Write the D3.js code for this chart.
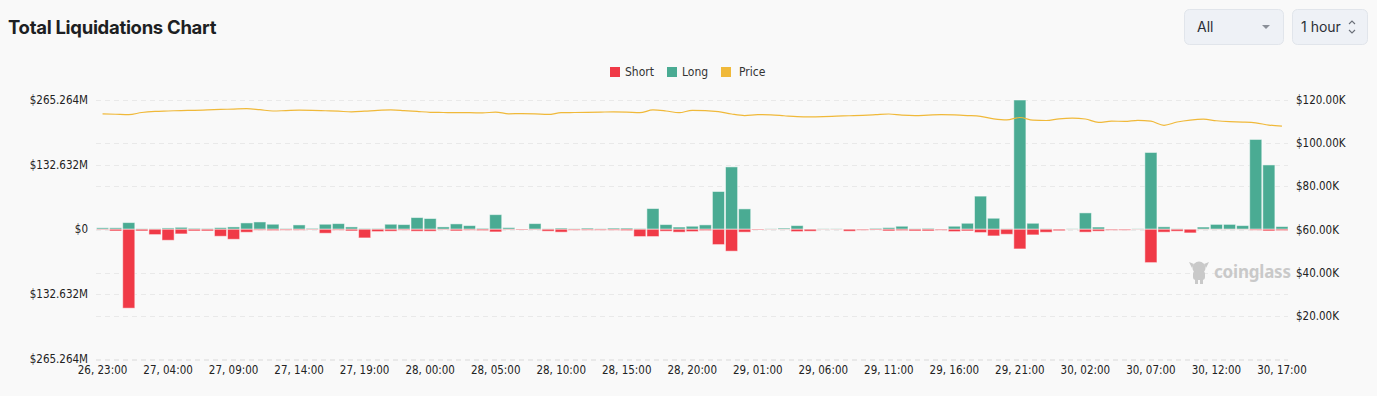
<!DOCTYPE html>
<html>
<head>
<meta charset="utf-8">
<script src="https://cdn.jsdelivr.net/npm/d3@7"></script>
<style>
  html, body { margin: 0; padding: 0; background: #f9f9f9; }
  svg { display: block; }
</style>
</head>
<body>
<svg id="chart" width="1377" height="396"></svg>
<script>
// ---------- DATA ----------
// hourly categories: 26, 23:00 .. 30, 17:00 (91 hours)
const startTime = new Date(2025, 6, 26, 23);
const endTime = new Date(2025, 6, 30, 18);
const categories = d3.timeHour.range(startTime, endTime);

// Long liquidations (million USD)
const longValues = [
  3, 3, 13.7, 1, 1, 2.7, 4, 2, 1.4, 3.4,
  4.8, 13, 15, 10.3, 1.4, 8.9, 2, 10.3, 11.6, 4.8,
  1.4, 1.4, 10.3, 9.6, 24, 22, 4.8, 11, 7.5, 2,
  30, 3.4, 0.5, 11.6, 1, 2.5, 1, 2.5, 1, 2.5,
  2.5, 1.4, 42.5, 9.6, 4.5, 6.2, 9, 77.5, 128, 41.8,
  0.3, 1, 2.5, 7.5, 0.5, 1, 1, 0.5, 0.5, 2,
  3.4, 6.2, 1, 2, 0.5, 6.2, 12.3, 68, 22.6, 1,
  265.264, 12.3, 1, 0.3, 1, 33.6, 4.5, 0.5, 0.5, 1,
  157.6, 5, 1, 0.3, 4.5, 10, 10, 7.5, 184.3, 132,
  5.5
];
// Short liquidations (million USD)
const shortValues = [
  1, 3.5, 162, 3.4, 11, 22.6, 9.6, 3.4, 3.4, 14.4,
  20.6, 6.2, 2, 2.7, 2, 2, 1, 8.2, 2, 3.4,
  17.8, 4.8, 4, 2, 4, 4, 1, 3.4, 2, 2.7,
  5.5, 1, 1.4, 1, 4, 6, 2, 2, 2, 2,
  2.7, 15, 15, 4, 6, 4.8, 2.7, 31.5, 45, 6,
  1.4, 0.5, 0.5, 4.8, 4, 0.5, 0.5, 4, 2, 1.5,
  3.4, 2.7, 3.4, 3.4, 2, 4.8, 3.4, 6.8, 13.7, 10.3,
  40.4, 11.6, 6.2, 3, 0.3, 6, 4, 2, 2, 0.5,
  68.5, 6, 4, 7.5, 0.5, 0.5, 0.5, 0.5, 2, 3.4,
  2.7
];
// BTC price (thousand USD)
const priceValues = [
  113.4, 113.2, 113.0, 114.0, 114.5, 114.7, 114.9, 115.0, 115.2, 115.4,
  115.6, 115.8, 115.3, 114.7, 114.9, 115.1, 115.0, 114.8, 114.6, 114.3,
  114.6, 115.0, 115.2, 114.9, 114.5, 114.1, 114.0, 113.9, 113.9, 113.8,
  114.2, 113.4, 113.5, 113.4, 113.1, 113.9, 114.0, 114.1, 114.2, 114.3,
  114.2, 113.9, 115.2, 114.7, 113.9, 115.0, 114.9, 114.4, 113.3, 112.6,
  113.0, 112.9, 112.5, 112.1, 112.0, 112.1, 112.3, 112.5, 112.7, 113.0,
  113.3, 112.8, 112.6, 112.8, 113.0, 112.9, 112.6, 112.2, 111.1, 110.6,
  111.7, 110.5, 110.3, 111.1, 111.4, 111.0, 109.4, 110.0, 109.9, 110.4,
  110.0, 108.1, 109.6, 110.5, 110.9, 110.2, 109.8, 109.6, 109.2, 108.2,
  107.7
];
const leftTicks = [-265.264, -132.632, 0, 132.632, 265.264];
const rightTicks = [20, 40, 60, 80, 100, 120];
const legendItems = ["Short", "Long", "Price"];

// ---------- STYLE ----------
const colShort = "#f03a47";
const colLong = "#4aab93";
const colPrice = "#f0b93a";
const axisFont = "'DejaVu Sans Condensed', 'DejaVu Sans', sans-serif";

const svg = d3.select("#chart");

// Title
svg.append("text").attr("x", 8).attr("y", 34)
  .attr("font-family", "Inter, 'Noto Sans', sans-serif")
  .attr("font-weight", 700).attr("font-size", 18.5).attr("fill", "#1d1f23")
  .attr("letter-spacing", -0.3)
  .text("Total Liquidations Chart");

// Controls
const ctrl = svg.append("g").attr("font-family", "Inter, 'Noto Sans', sans-serif");
ctrl.append("rect").attr("x", 1184.5).attr("y", 9.5).attr("width", 99).attr("height", 35)
  .attr("rx", 5).attr("fill", "#eef1f6").attr("stroke", "#e1e5eb");
ctrl.append("text").attr("x", 1197).attr("y", 32).attr("font-size", 14).attr("fill", "#2b2f36").text("All");
ctrl.append("path").attr("d", "M1262,25 L1270,25 L1266,29 Z").attr("fill", "#8a8f98");
ctrl.append("rect").attr("x", 1292.5).attr("y", 9.5).attr("width", 75).attr("height", 35)
  .attr("rx", 5).attr("fill", "#eef1f6").attr("stroke", "#e1e5eb");
ctrl.append("text").attr("x", 1301).attr("y", 32).attr("font-size", 14).attr("fill", "#2b2f36").text("1 hour");
ctrl.append("path").attr("d", "M1349,24 L1352,21 L1355,24 M1349,30 L1352,33 L1355,30")
  .attr("fill", "none").attr("stroke", "#6b7079").attr("stroke-width", 1.1);

// Legend
const legColors = [colShort, colLong, colPrice];
const legX = [610, 667, 721];
const legTextX = [625, 682, 739];
const leg = svg.append("g");
legendItems.forEach((name, i) => {
  leg.append("rect").attr("x", legX[i]).attr("y", 67).attr("width", 10).attr("height", 10)
    .attr("fill", legColors[i]);
  leg.append("text").attr("x", legTextX[i]).attr("y", 76)
    .attr("font-family", "'DejaVu Sans Condensed', 'DejaVu Sans', sans-serif")
    .attr("font-size", 12).attr("fill", "#333").text(name);
});

// Scales
const x = d3.scaleBand().domain(categories).range([96, 1288.5]).padding(0);
const yL = d3.scaleLinear().domain([-265.264, 265.264]).range([358.5, 100]);
const yR = d3.scaleLinear().domain([0, 120]).range([359.5, 99.5]);

// Gridlines (both axes)
const gridYs = leftTicks.map(v => yL(v)).concat(rightTicks.map(v => yR(v)), [yR(0)]);
svg.append("g").selectAll("line").data(gridYs).join("line")
  .attr("x1", 96).attr("x2", 1288)
  .attr("y1", d => Math.round(d) + 0.5).attr("y2", d => Math.round(d) + 0.5)
  .attr("stroke", "#e9e9e9").attr("stroke-dasharray", "5,4");

// Watermark
const wm = svg.append("g").attr("fill", "#c9c9c9");
wm.append("circle").attr("cx", 1199).attr("cy", 268).attr("r", 6.5);
wm.append("rect").attr("x", 1193).attr("y", 271).attr("width", 12).attr("height", 9).attr("rx", 3);
wm.append("rect").attr("x", 1195).attr("y", 279).attr("width", 3).attr("height", 5);
wm.append("rect").attr("x", 1200).attr("y", 279).attr("width", 3).attr("height", 5);
wm.append("path").attr("d", "M1189,262 L1194,264 L1192,268 Z M1209,262 L1204,264 L1206,268 Z");
wm.append("text").attr("x", 1214).attr("y", 278)
  .attr("font-family", "'Noto Sans', 'DejaVu Sans', sans-serif")
  .attr("font-weight", 700).attr("font-size", 17).attr("letter-spacing", -0.2)
  .text("coinglass");

// Bars
const bw = x.bandwidth();
const barsG = svg.append("g");
barsG.selectAll("rect.long").data(categories).join("rect")
  .attr("class", "long")
  .attr("x", d => x(d) + 0.5)
  .attr("width", bw - 1)
  .attr("y", (d, i) => yL(longValues[i]))
  .attr("height", (d, i) => yL(0) - yL(longValues[i]))
  .attr("fill", colLong)
  .attr("stroke", "rgba(255,255,255,0.5)").attr("stroke-width", 1);
barsG.selectAll("rect.short").data(categories).join("rect")
  .attr("class", "short")
  .attr("x", d => x(d) + 0.5)
  .attr("width", bw - 1)
  .attr("y", yL(0))
  .attr("height", (d, i) => yL(-shortValues[i]) - yL(0))
  .attr("fill", colShort)
  .attr("stroke", "rgba(255,255,255,0.5)").attr("stroke-width", 1);

// Price line
const line = d3.line()
  .x((d, i) => x(categories[i]) + bw / 2)
  .y(d => yR(d))
  .curve(d3.curveMonotoneX);
svg.append("path").datum(priceValues)
  .attr("d", line).attr("fill", "none")
  .attr("stroke", colPrice).attr("stroke-width", 1.2);

// Left axis
const leftAxis = d3.axisLeft(yL).tickValues(leftTicks).tickSize(0).tickPadding(8)
  .tickFormat(v => v === 0 ? "$0" : "$" + d3.format(".3f")(Math.abs(v)) + "M");
const gL = svg.append("g").attr("transform", "translate(96,0)").call(leftAxis);
gL.select(".domain").remove();
gL.selectAll("text").attr("font-family", axisFont).attr("font-size", 11.5).attr("fill", "#222");

// Right axis
const rightAxis = d3.axisRight(yR).tickValues(rightTicks).tickSize(0).tickPadding(8)
  .tickFormat(v => "$" + d3.format(".2f")(v) + "K");
const gR = svg.append("g").attr("transform", "translate(1288,0)").call(rightAxis);
gR.select(".domain").remove();
gR.selectAll("text").attr("font-family", axisFont).attr("font-size", 11.5).attr("fill", "#222");

// Bottom axis
const fmt = d3.timeFormat("%d, %H:%M");
const xTickValues = categories.filter((d, i) => i % 5 === 0);
const bottomAxis = d3.axisBottom(x).tickValues(xTickValues).tickSize(0).tickPadding(6)
  .tickFormat(d => fmt(d));
const gB = svg.append("g").attr("transform", "translate(0,360)").call(bottomAxis);
gB.select(".domain").remove();
gB.selectAll("text").attr("font-family", axisFont).attr("font-size", 11.5).attr("fill", "#222");
</script>
</body>
</html>
